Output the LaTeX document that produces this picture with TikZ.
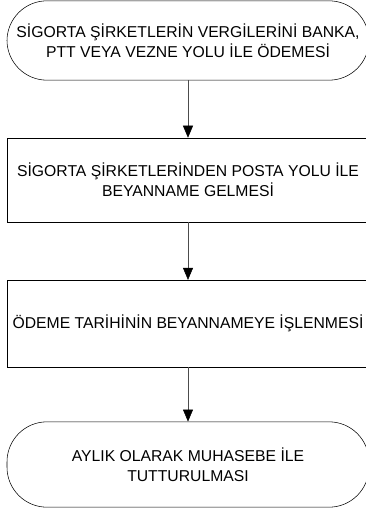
\documentclass[tikz,border=0pt]{standalone}
\usepackage{fontspec}
\setmainfont{Liberation Sans}
\usetikzlibrary{arrows.meta,positioning}

\begin{document}
\begin{tikzpicture}[x=0.75pt, y=-0.75pt,
    termbox/.style={rectangle, draw, rounded corners=30pt, minimum width=271.5pt, align=center, inner sep=0pt, font=\fontsize{11.8}{15}\selectfont},
    procbox/.style={rectangle, draw, minimum width=271.5pt, align=center, inner sep=0pt, font=\fontsize{11.8}{15}\selectfont},
    arrow/.style={-{Triangle[length=9pt, width=7.5pt, color=black]}, draw=black!70}
]
    \useasboundingbox (0,0) rectangle (366,513);

    % terminators and steps
    \node[termbox, minimum height=59.5pt] (odeme) at (188,40.5) {SİGORTA ŞİRKETLERİN VERGİLERİNİ BANKA,\\PTT VEYA VEZNE YOLU İLE ÖDEMESİ};
    \node[procbox, minimum height=63pt] (posta) at (188,180) {SİGORTA ŞİRKETLERİNDEN POSTA YOLU İLE\\BEYANNAME GELMESİ};
    \node[procbox, minimum height=65pt] (isleme) at (188,323.5) {ÖDEME TARİHİNİN BEYANNAMEYE İŞLENMESİ};
    \node[termbox, minimum height=64pt] (muhasebe) at (188,464.5) {AYLIK OLARAK MUHASEBE İLE\\TUTTURULMASI};

    % arrows
    \draw[arrow] (odeme) -- (posta);
    \draw[arrow] (posta) -- (isleme);
    \draw[arrow] (isleme) -- (muhasebe);
\end{tikzpicture}
\end{document}
